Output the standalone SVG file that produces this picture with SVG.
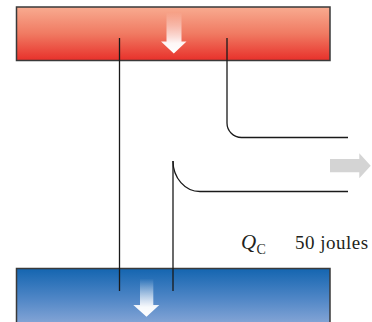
<svg xmlns="http://www.w3.org/2000/svg" width="372" height="322" viewBox="0 0 372 322">
<defs>
<linearGradient id="hot" x1="0" y1="0" x2="0" y2="1">
<stop offset="0" stop-color="#f8ab90"/>
<stop offset="0.5" stop-color="#f07a62"/>
<stop offset="1" stop-color="#e8302a"/>
</linearGradient>
<linearGradient id="cold" x1="0" y1="0" x2="0" y2="1">
<stop offset="0" stop-color="#1465b0"/>
<stop offset="0.5" stop-color="#4f86c6"/>
<stop offset="1" stop-color="#8fabd9"/>
</linearGradient>
<linearGradient id="arrHot" x1="0" y1="0" x2="0" y2="1">
<stop offset="0" stop-color="#ffffff" stop-opacity="0"/>
<stop offset="0.75" stop-color="#ffffff" stop-opacity="0.95"/>
<stop offset="1" stop-color="#ffffff"/>
</linearGradient>
</defs>
<style>
.res{stroke:#3a3a3a;stroke-width:1.5}
.wire{fill:none;stroke:#1a1a1a;stroke-width:1.3}
.lbl{font-family:"Liberation Serif","Times New Roman",serif;fill:#231f20}
</style>
<g id="hot-reservoir">
<rect class="res" x="16.5" y="7" width="313.5" height="53.5" fill="url(#hot)"/>
<polygon points="166.5,12.5 181.5,12.5 181.5,41.5 186.5,41.5 173.8,53.5 161,41.5 166.5,41.5" fill="url(#arrHot)"/>
</g>
<g id="cold-reservoir">
<rect class="res" x="16.5" y="268.5" width="313.5" height="60" fill="url(#cold)"/>
<polygon points="140,278.5 153.3,278.5 153.3,305 159.3,305 146.5,316.7 133.3,305 140,305" fill="url(#arrHot)"/>
</g>
<g id="work-arrow">
<polygon points="330,159 359.3,159 359.3,153.3 370.7,165.8 359.3,178.3 359.3,172.3 330,172.3" fill="#d4d4d4"/>
</g>
<g id="connectors">
<path class="wire" d="M119.5,38 V291"/>
<path class="wire" d="M227,38 V123 A14.5,14.5 0 0 0 241.5,137.5 H348"/>
<path class="wire" d="M173,161 V291"/>
<path class="wire" d="M173,161 A27,30.5 0 0 0 200,191.5 H348"/>
</g>
<g id="label">
<text class="lbl" x="241" y="248.5" font-size="21" font-style="italic">Q</text>
<text class="lbl" x="256.5" y="253.5" font-size="14">C</text>
<text class="lbl" x="295" y="248.5" font-size="19" letter-spacing="0.5">50 joules</text>
</g>
</svg>
